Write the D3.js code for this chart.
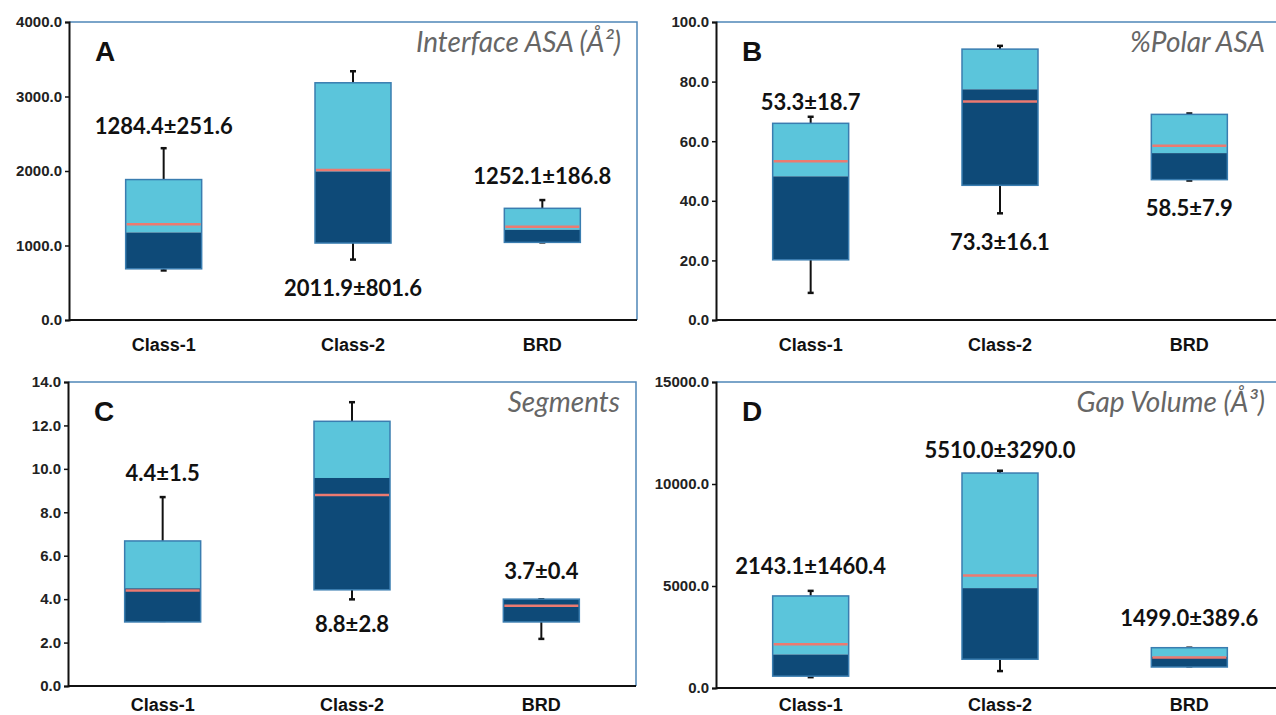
<!DOCTYPE html>
<html>
<head>
<meta charset="utf-8">
<script src="https://cdn.jsdelivr.net/npm/d3@7"></script>
<style>
  body { margin: 0; background: #fff; }
</style>
</head>
<body>
<div id="chart"></div>
<script>
const categories = ['Class-1', 'Class-2', 'BRD']

// A: Interface ASA
const asaLow = [665, 811, 1042]
const asaQ1 = [687, 1033, 1042]
const asaMedian = [1175, 1995, 1211]
const asaQ3 = [1885, 3184, 1499]
const asaHigh = [2306, 3339, 1610]
const asaMean = [1284.4, 2011.9, 1252.1]
const asaSd = [251.6, 801.6, 186.8]
const asaLabelAt = [2607, 435, 1929]
const asaTicks = [0, 1000, 2000, 3000, 4000]

// B: %Polar ASA
const polarLow = [9.1, 35.8, 46.8]
const polarQ1 = [20.2, 45.2, 47.1]
const polarMedian = [48.2, 77.4, 56.0]
const polarQ3 = [66.0, 90.9, 69.0]
const polarHigh = [68.2, 92.0, 69.3]
const polarMean = [53.3, 73.3, 58.5]
const polarSd = [18.7, 16.1, 7.9]
const polarLabelAt = [73.2, 26, 37.7]
const polarTicks = [0, 20, 40, 60, 80, 100]

// C: Segments
const segLow = [3.0, 3.99, 2.17]
const segQ1 = [2.95, 4.43, 2.95]
const segMedian = [4.5, 9.58, 4.0]
const segQ3 = [6.68, 12.19, 4.0]
const segHigh = [8.7, 13.07, 3.99]
const segMean = [4.4, 8.8, 3.7]
const segSd = [1.5, 2.8, 0.4]
const segLabelAt = [9.8, 2.87, 5.28]
const segTicks = [0, 2, 4, 6, 8, 10, 12, 14]

// D: Gap Volume
const gapLow = [531, 830, 1062]
const gapQ1 = [581, 1410, 1029]
const gapMedian = [1643, 4895, 1527]
const gapQ3 = [4513, 10537, 1975]
const gapHigh = [4762, 10650, 1975]
const gapMean = [2143.1, 5510.0, 1499.0]
const gapSd = [1460.4, 3290.0, 389.6]
const gapLabelAt = [5973, 11680, 3435]
const gapTicks = [0, 5000, 10000, 15000]

const panels = [
  { letter: 'A', title: 'Interface ASA (Å²)', left: 69, top: 22, bottom: 320, max: 4000, ticks: asaTicks, xLabelDy: 31,
    low: asaLow, q1: asaQ1, median: asaMedian, q3: asaQ3, high: asaHigh, mean: asaMean, sd: asaSd, labelAt: asaLabelAt },
  { letter: 'B', title: '%Polar ASA', left: 716, top: 22, bottom: 320, max: 100, ticks: polarTicks, xLabelDy: 31,
    low: polarLow, q1: polarQ1, median: polarMedian, q3: polarQ3, high: polarHigh, mean: polarMean, sd: polarSd, labelAt: polarLabelAt },
  { letter: 'C', title: 'Segments', left: 68, top: 382, bottom: 686, max: 14, ticks: segTicks, xLabelDy: 25,
    low: segLow, q1: segQ1, median: segMedian, q3: segQ3, high: segHigh, mean: segMean, sd: segSd, labelAt: segLabelAt },
  { letter: 'D', title: 'Gap Volume (Å³)', left: 716, top: 382, bottom: 688, max: 15000, ticks: gapTicks, xLabelDy: 23,
    low: gapLow, q1: gapQ1, median: gapMedian, q3: gapQ3, high: gapHigh, mean: gapMean, sd: gapSd, labelAt: gapLabelAt }
]

const plotWidth = 568
const boxWidth = 76

const svg = d3.select('#chart')
  .append('svg')
  .attr('width', 1276)
  .attr('height', 715)
  .style('background-color', '#FFF')

for (const p of panels) {
  const height = p.bottom - p.top
  const g = svg.append('g')
    .attr('transform', `translate(${p.left}, ${p.top})`)

  const x = d3.scalePoint()
    .domain(categories)
    .range([0, plotWidth])
    .padding(0.5)

  const y = d3.scaleLinear()
    .domain([0, p.max])
    .range([height, 0])

  // blue frame on top and right
  g.append('path')
    .attr('d', `M0,0H${plotWidth}V${height}`)
    .attr('fill', 'none')
    .attr('stroke', '#4f86b8')
    .attr('stroke-width', 1.5)

  const yAxis = g.append('g')
    .call(d3.axisLeft(y).tickValues(p.ticks).tickSize(4).tickFormat(d3.format('.1f')))
  yAxis.select('.domain').attr('stroke', '#111').attr('stroke-width', 2)
  yAxis.selectAll('.tick line').attr('stroke', '#111').attr('stroke-width', 1.5)
  yAxis.selectAll('.tick text')
    .attr('x', -7)
    .attr('fill', '#222')
    .attr('font-family', 'Liberation Sans, Arial, sans-serif')
    .attr('font-weight', 'bold')
    .attr('font-size', 15)

  g.append('line')
    .attr('x1', 0)
    .attr('x2', plotWidth)
    .attr('y1', height)
    .attr('y2', height)
    .attr('stroke', '#111')
    .attr('stroke-width', 2)

  g.selectAll('.xlabel')
    .data(categories)
    .enter()
    .append('text')
    .attr('x', d => x(d))
    .attr('y', height + p.xLabelDy)
    .attr('text-anchor', 'middle')
    .attr('font-family', 'Liberation Sans, Arial, sans-serif')
    .attr('font-weight', 'bold')
    .attr('font-size', 18)
    .attr('fill', '#111')
    .text(d => d)

  const rows = categories.map((c, i) => ({
    c, low: p.low[i], q1: p.q1[i], median: p.median[i], q3: p.q3[i], high: p.high[i],
    mean: p.mean[i], sd: p.sd[i], labelAt: p.labelAt[i]
  }))

  const box = g.selectAll('.box')
    .data(rows)
    .enter()
    .append('g')

  // whiskers
  box.append('line')
    .attr('x1', d => x(d.c)).attr('x2', d => x(d.c))
    .attr('y1', d => y(d.high)).attr('y2', d => y(d.q3))
    .attr('stroke', '#111').attr('stroke-width', 2)
  box.append('line')
    .attr('x1', d => x(d.c)).attr('x2', d => x(d.c))
    .attr('y1', d => y(d.low)).attr('y2', d => y(d.q1))
    .attr('stroke', '#111').attr('stroke-width', 2)
  box.append('line')
    .attr('x1', d => x(d.c) - 3).attr('x2', d => x(d.c) + 3)
    .attr('y1', d => y(d.high)).attr('y2', d => y(d.high))
    .attr('stroke', '#111').attr('stroke-width', 2.5)
  box.append('line')
    .attr('x1', d => x(d.c) - 3).attr('x2', d => x(d.c) + 3)
    .attr('y1', d => y(d.low)).attr('y2', d => y(d.low))
    .attr('stroke', '#111').attr('stroke-width', 2.5)

  // upper (light) and lower (dark) halves
  box.append('rect')
    .attr('x', d => x(d.c) - boxWidth / 2)
    .attr('width', boxWidth)
    .attr('y', d => y(d.q3))
    .attr('height', d => y(d.median) - y(d.q3))
    .attr('fill', '#5bc5db')
  box.append('rect')
    .attr('x', d => x(d.c) - boxWidth / 2)
    .attr('width', boxWidth)
    .attr('y', d => y(d.median))
    .attr('height', d => y(d.q1) - y(d.median))
    .attr('fill', '#0e4a78')
  box.append('rect')
    .attr('x', d => x(d.c) - boxWidth / 2)
    .attr('width', boxWidth)
    .attr('y', d => y(d.q3))
    .attr('height', d => y(d.q1) - y(d.q3))
    .attr('fill', 'none')
    .attr('stroke', '#3a7db0')
    .attr('stroke-width', 1.5)

  // mean line
  box.append('line')
    .attr('x1', d => x(d.c) - boxWidth / 2 + 1).attr('x2', d => x(d.c) + boxWidth / 2 - 1)
    .attr('y1', d => y(d.mean)).attr('y2', d => y(d.mean))
    .attr('stroke', '#ec7a70').attr('stroke-width', 2.5)

  box.append('text')
    .attr('x', d => x(d.c))
    .attr('y', d => y(d.labelAt))
    .attr('dy', '0.36em')
    .attr('text-anchor', 'middle')
    .attr('font-family', 'Lato, sans-serif')
    .attr('font-weight', 'bold')
    .attr('font-size', 22)
    .attr('fill', '#111')
    .text(d => `${d.mean.toFixed(1)}±${d.sd.toFixed(1)}`)

  g.append('text')
    .attr('x', 26)
    .attr('y', 39)
    .attr('font-family', 'Liberation Sans, Arial, sans-serif')
    .attr('font-weight', 'bold')
    .attr('font-size', 28)
    .attr('fill', '#111')
    .text(p.letter)

  g.append('text')
    .attr('x', plotWidth - 17 - (p.left > 600 ? 2 : -1))
    .attr('y', 30)
    .attr('text-anchor', 'end')
    .attr('font-family', 'Lato, sans-serif')
    .attr('font-style', 'italic')
    .attr('font-size', 28)
    .attr('fill', '#666')
    .text(p.title)
}
</script>
</body>
</html>
